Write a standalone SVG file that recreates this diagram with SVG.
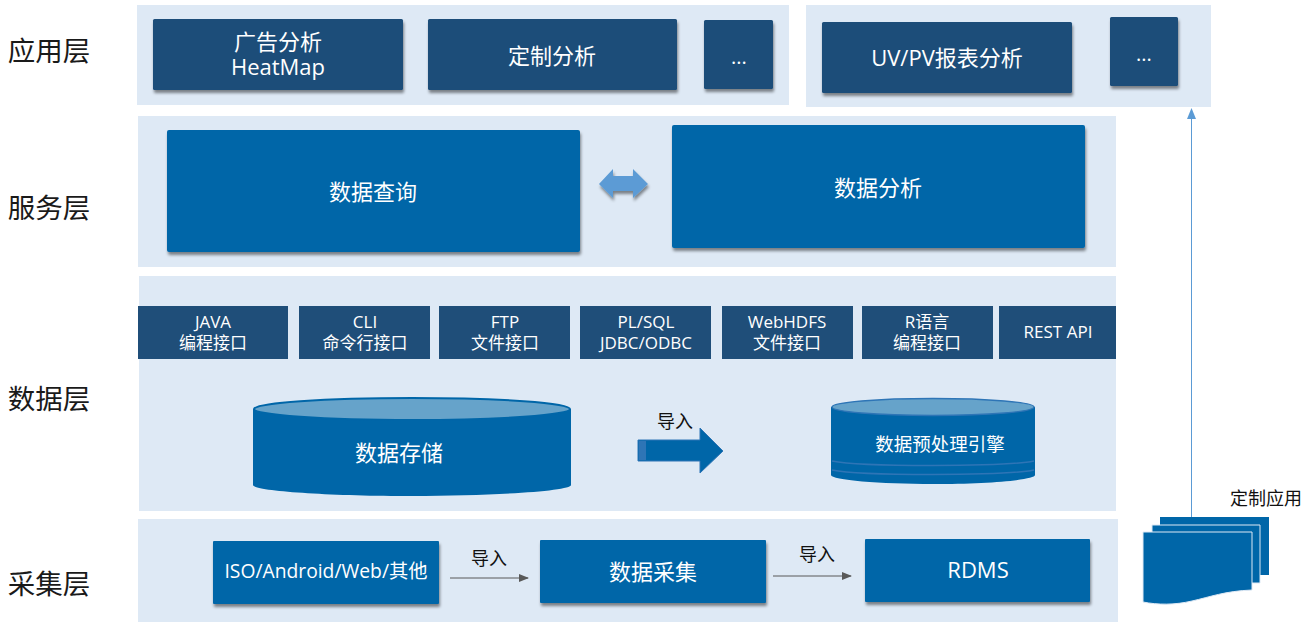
<svg xmlns="http://www.w3.org/2000/svg" width="1307" height="627" viewBox="0 0 1307 627">
<defs>
<style>
text{font-family:"Open Sans","Noto Sans CJK SC","Liberation Sans",sans-serif;text-anchor:middle}
.band{fill:#dee9f5}
.dk{fill:#1f4e79}
.bl{fill:#0066a8}
.s{filter:url(#sh)}
.w{fill:#fff}
.t22{font-size:22px}
.t17{font-size:17px}
.lay{font-size:27.5px;fill:#1a1a1a}
.k{font-size:18px;fill:#111}
.cap{fill:#66a3ca}
</style>
<filter id="sh" x="-10%" y="-10%" width="120%" height="125%"><feDropShadow dx="1" dy="3" stdDeviation="1.6" flood-color="#000" flood-opacity=".45"/></filter>
<marker id="ag" markerWidth="10" markerHeight="8" refX="9" refY="4" orient="auto" markerUnits="userSpaceOnUse"><path d="M0 0L10 4L0 8Z" fill="#595959"/></marker>
</defs>
<g id="bands">
<rect class="band" x="137" y="5" width="652" height="100"/>
<rect class="band" x="806" y="5" width="405" height="102"/>
<rect class="band" x="138" y="116" width="978" height="151"/>
<rect class="band" x="139" y="276" width="977" height="235"/>
<rect class="band" x="138" y="519" width="980" height="103"/>
</g>
<g id="layer-labels">
<text class="lay" x="49" y="61">应用层</text>
<text class="lay" x="49" y="218">服务层</text>
<text class="lay" x="49" y="409">数据层</text>
<text class="lay" x="49" y="594">采集层</text>
</g>
<g id="connectors">
<path d="M1191.500 522V112" stroke="#5b9bd5" stroke-width="1" fill="none"/>
<path d="M1187 119L1191.500 108L1196 119Z" fill="#5b9bd5"/>
<path d="M450 578H528" stroke="#595959" stroke-width="1" fill="none" marker-end="url(#ag)"/>
<path d="M773 576H851" stroke="#595959" stroke-width="1" fill="none" marker-end="url(#ag)"/>
</g>
<g id="n-ad"><rect class="dk s" x="153" y="19" width="250" height="71" rx="1.500"/><text class="w t22"><tspan x="278" y="50">广告分析</tspan><tspan x="278" y="75">HeatMap</tspan></text></g>
<g id="n-custom"><rect class="dk s" x="428" y="19" width="249" height="71" rx="1.500"/><text class="w t22" x="552" y="64">定制分析</text></g>
<g id="n-more1"><rect class="dk s" x="704" y="20" width="69" height="69" rx="1.500"/><text class="w" font-size="20" x="739" y="64">...</text></g>
<g id="n-uvpv"><rect class="dk s" x="822" y="22" width="250" height="71" rx="1.500"/><text class="w t22" x="947" y="66">UV/PV报表分析</text></g>
<g id="n-more2"><rect class="dk s" x="1110" y="17" width="68" height="69" rx="1.500"/><text class="w" font-size="20" x="1144" y="61">...</text></g>
<g id="n-query"><rect class="bl s" x="167" y="130" width="413" height="122" rx="2"/><text class="w t22" x="373" y="200">数据查询</text></g>
<g id="n-biarrow"><path class="s" d="M599 184L613 169V176H633V169L648 184L633 198V191H613V198Z" fill="#5b9bd5"/></g>
<g id="n-analysis"><rect class="bl s" x="672" y="125" width="413" height="123" rx="2"/><text class="w t22" x="878" y="196">数据分析</text></g>
<g id="n-java"><rect class="dk" x="138" y="306" width="150" height="53"/><text class="w t17" x="213" y="328">JAVA</text><text class="w t17" x="213" y="349">编程接口</text></g>
<g id="n-cli"><rect class="dk" x="299" y="306" width="131" height="53"/><text class="w t17" x="365" y="328">CLI</text><text class="w t17" x="365" y="349">命令行接口</text></g>
<g id="n-ftp"><rect class="dk" x="439" y="306" width="131" height="53"/><text class="w t17" x="505" y="328">FTP</text><text class="w t17" x="505" y="349">文件接口</text></g>
<g id="n-plsql"><rect class="dk" x="580" y="306" width="131" height="53"/><text class="w t17" x="646" y="328">PL/SQL</text><text class="w t17" x="646" y="349">JDBC/ODBC</text></g>
<g id="n-webhdfs"><rect class="dk" x="722" y="306" width="131" height="53"/><text class="w t17" x="787" y="328">WebHDFS</text><text class="w t17" x="787" y="349">文件接口</text></g>
<g id="n-r"><rect class="dk" x="862" y="306" width="131" height="53"/><text class="w t17" x="927" y="328">R语言</text><text class="w t17" x="927" y="349">编程接口</text></g>
<g id="n-rest"><rect class="dk" x="999" y="306" width="117" height="53"/><text class="w t17" x="1058" y="338">REST API</text></g>
<g id="n-storage">
<path class="bl" d="M253 409V485C253 491 330 496 412 496C494 496 571 491 571 485V409Z"/>
<ellipse class="cap" cx="412" cy="409" rx="158" ry="11" stroke="#0066a8" stroke-width="2"/>
<text class="w t22" x="399" y="461">数据存储</text></g>
<g id="n-import-arrow"><path d="M638 440H700V428L723 451L700 473V461H638Z" fill="#0066a8" stroke="#2e75b6"/><path d="M639 441H646V460H639Z" fill="#2e75b6"/><text class="k" x="675" y="428">导入</text></g>
<g id="n-preproc">
<path class="bl" d="M831 407V475C831 480 880 484 933 484C986 484 1035 480 1035 475V407Z"/>
<path d="M832 461C860 467 1005 467 1034 461M832 470C860 476 1005 476 1034 470" stroke="#2e75b6" stroke-width="1.500" fill="none"/>
<ellipse class="cap" cx="933" cy="407" rx="101" ry="8.500" stroke="#2e75b6" stroke-width="1.500"/>
<text class="w" font-size="18.500" x="940" y="451">数据预处理引擎</text></g>
<g id="n-source"><rect class="bl s" x="213" y="541" width="226" height="63" rx="1"/><text class="w" font-size="19.300" x="326" y="578">ISO/Android/Web/其他</text></g>
<text class="k" x="489" y="565">导入</text>
<g id="n-collect"><rect class="bl s" x="540" y="540" width="226" height="63" rx="1"/><text class="w t22" x="653" y="580">数据采集</text></g>
<text class="k" x="817" y="561">导入</text>
<g id="n-rdms"><rect class="bl s" x="865" y="539" width="225" height="63" rx="1"/><text class="w t22" x="978" y="578">RDMS</text></g>
<g id="n-docs">
<path class="bl" d="M1160 517H1269V575H1160Z"/>
<path class="bl" d="M1152 525H1260V583H1152Z" stroke="#dee9f5"/>
<path class="bl" d="M1143 532H1252V590C1225 591 1210 597 1192 601C1175 605 1158 605 1143 602Z" stroke="#dee9f5"/>
<text class="k" x="1266" y="505">定制应用</text></g>
</svg>
